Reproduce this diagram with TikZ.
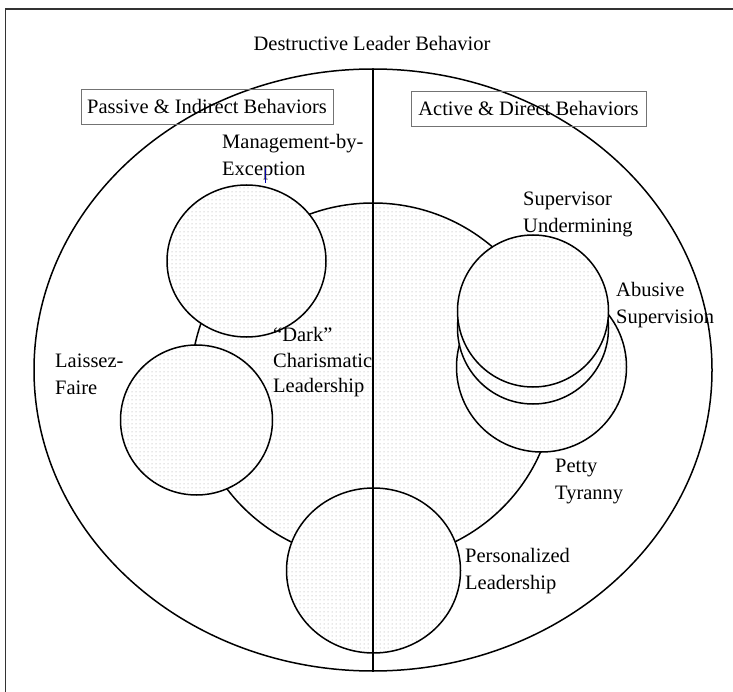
\documentclass[tikz,border=0pt]{standalone}
\usepackage{fontspec}
\setmainfont{Liberation Serif}
\usetikzlibrary{patterns}
\pgfdeclarepatternformonly{finedots}{\pgfqpoint{-1pt}{-1pt}}{\pgfqpoint{1pt}{1pt}}{\pgfqpoint{4pt}{4pt}}{\pgfpathcircle{\pgfpointorigin}{0.5pt}\pgfusepath{fill}}
\begin{document}
\begin{tikzpicture}[x=1pt,y=-1pt,
	set/.style={line width=1.5, preaction={fill=white}, pattern=finedots, pattern color=black!38},
	lbl/.style={inner sep=0pt, anchor=west, align=left, font=\fontsize{20.5}{27}\selectfont},
	heading/.style={draw=black!55, line width=0.8, minimum height=35, inner sep=0pt, font=\fontsize{20.5}{25}\selectfont}]
		\useasboundingbox (0,0) rectangle (733,692);
		\draw [line width=1.2, black!80] (5.5,760) |- (760,9);
		\node[font=\fontsize{20.5}{25}\selectfont] (title) at (372,43) {Destructive Leader Behavior};
		\draw [line width=1.5] (373,370) ellipse (339 and 301);
		\draw [set] (373,382) ellipse (182 and 179);
		\draw [set] (246.5,261) ellipse (79.5 and 76);
		\draw [set] (196.5,420) ellipse (76 and 75);
		\draw [set] (373.5,570.5) ellipse (87 and 82.5);
		\draw [set] (541.5,367) ellipse (85 and 85);
		\draw [set] (533,328) ellipse (75.5 and 76);
		\draw [set] (533,311) ellipse (75.5 and 76);
		\node[heading, minimum width=252] (passive) at (207,106.5) {Passive \& Indirect Behaviors};
		\node[heading, minimum width=235] (active) at (528.5,108.5) {Active \& Direct Behaviors};
		\node[lbl] (mbe) at (222,157.5) {Management-by-\\Exception};
		\draw [blue!70!black, line width=0.8] (265,168) -- (265,183);
		\node[lbl] (laissez) at (55,374.5) {Laissez-\\Faire};
		\node[lbl, font=\fontsize{20.5}{25.5}\selectfont] (dark) at (273,362.5) {“Dark”\\Charismatic\\Leadership};
		\node[lbl] (supund) at (523,214) {Supervisor\\Undermining};
		\node[lbl] (abusive) at (616,305.5) {Abusive\\Supervision};
		\node[lbl] (petty) at (555,481) {Petty\\Tyranny};
		\node[lbl] (personal) at (465,571) {Personalized\\Leadership};
		\draw [line width=1.5] (373,69) -- (373,671);
	\end{tikzpicture}
\end{document}
